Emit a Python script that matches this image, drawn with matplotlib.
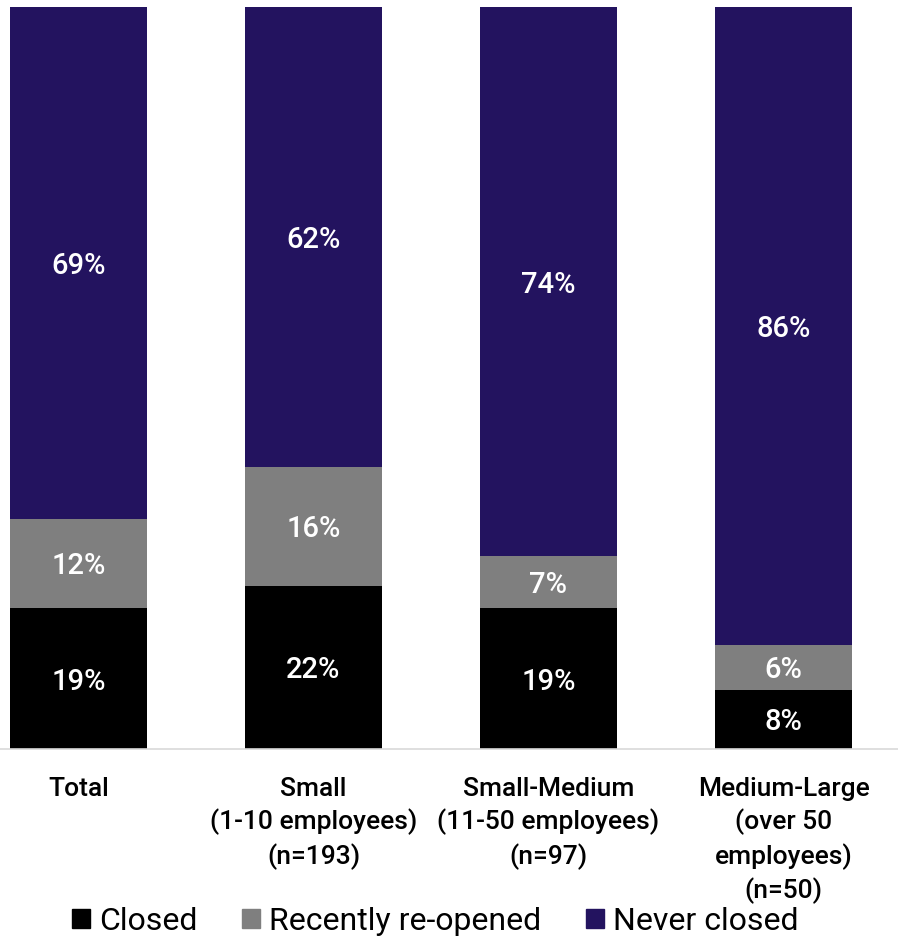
import matplotlib
matplotlib.use("Agg")
from matplotlib import pyplot as plt
from matplotlib.patches import Patch
import numpy as np

plt.rcParams['font.family'] = ['Roboto', 'DejaVu Sans']

categories = ["Total", "Small\n(1-10 employees)\n(n=193)",
              "Small-Medium\n(11-50 employees)\n(n=97)",
              "Medium-Large\n(over 50\nemployees)\n(n=50)"]
series_names = ["Closed", "Recently re-opened", "Never closed"]
closed = [19, 22, 19, 8]
reopened = [12, 16, 7, 6]
never_closed = [69, 62, 74, 86]
colors = ["#000000", "#7f7f7f", "#23135f"]

fig = plt.figure(figsize=(8.98, 9.40), dpi=100)
ax = fig.add_axes([0, 1 - 749 / 940, 1, 742 / 940])

x = np.arange(len(categories))
bottom = np.zeros(len(categories))
for name, vals, col in zip(series_names, [closed, reopened, never_closed], colors):
    bars = ax.bar(x, vals, width=0.583, bottom=bottom, color=col, label=name)
    for b, v, y0 in zip(bars, vals, bottom):
        ax.text(b.get_x() + b.get_width() / 2, y0 + v / 2, f"{v}%",
                ha="center", va="center_baseline", color="white", fontsize=21,
                fontweight="medium")
    bottom += np.array(vals)

ax.set_xlim(-78.5 / 235, (898 - 78.5) / 235)
ax.set_ylim(0, 100)
for s in ["top", "right", "left"]:
    ax.spines[s].set_visible(False)
ax.spines["bottom"].set_color("#d9d9d9")
ax.spines["bottom"].set_linewidth(1.2)
ax.set_yticks([])
ax.set_xticks(x)
ax.set_xticklabels(categories, fontsize=19, linespacing=1.38, fontweight="medium")
ax.tick_params(axis="x", length=0, pad=20)

handles = [Patch(color=c) for c in colors]
fig.legend(handles, series_names, loc="lower center", ncol=3, frameon=False,
           fontsize=23, bbox_to_anchor=(0.485, -0.026), handlelength=0.55,
           handleheight=0.55, handletextpad=0.3, columnspacing=1.4)

fig.savefig("out.png", dpi=100)
